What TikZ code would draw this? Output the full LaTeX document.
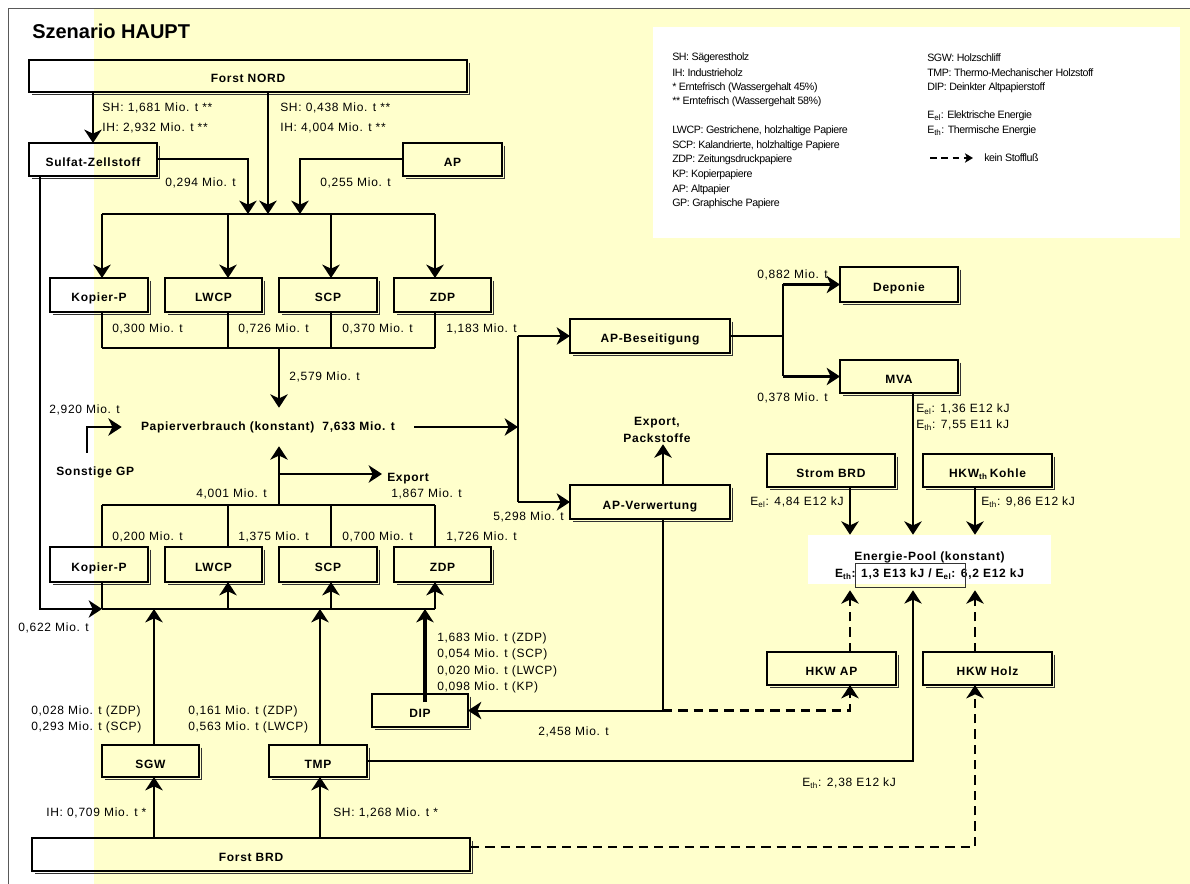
\documentclass[tikz,border=0pt]{standalone}
\usepackage{fontspec}
\setmainfont{Liberation Sans}
\newfontfamily\lsfont[LetterSpace=6]{Liberation Sans}
\newfontfamily\lgfont[LetterSpace=-4]{Liberation Sans}
\usetikzlibrary{arrows.meta}
\definecolor{bgy}{HTML}{FFFFCC}
\newcommand{\labf}{\lsfont\fontsize{9}{10}\selectfont}
\newcommand{\boxf}{\lsfont\bfseries\fontsize{9}{12.75}\selectfont}
\newcommand{\legf}{\lgfont\fontsize{8}{10}\selectfont}
\tikzset{
  ln/.style={line width=2.1pt},
  lnt/.style={line width=1.5pt},
  arr/.style={-{Stealth[length=10pt,width=13pt,inset=3pt]}},
  dsh/.style={line width=2pt, dash pattern=on 7pt off 4.5pt},
  wh/.style 2 args={minimum width=#1*0.75pt, minimum height=#2*0.75pt},
  box/.style={draw, line width=1.5pt, outer sep=0pt, inner sep=0pt, font=\boxf, text height=10.5pt, text depth=0pt},
  lab/.style={font=\labf, inner sep=0pt, anchor=west},
  leg/.style={font=\legf, inner sep=0pt, anchor=west},
  btx/.style={font=\boxf, inner sep=0pt},
  shd/.style={line width=0.8pt, black!80}
}
\begin{document}
\begin{tikzpicture}[x=0.75pt,y=-0.75pt]
\useasboundingbox (0,0) rectangle (1190,884);
\fill[white] (0,0) rectangle (1190,884);
\fill[bgy] (94,9) rectangle (1190,884);
\draw[black!65, line width=0.75pt] (8,884) -- (8,9) -- (1190,9);
\fill[white] (653,27) rectangle (1180,238);

% title
\node[font=\bfseries\fontsize{15}{18}\selectfont, anchor=base west, inner sep=0pt] (title) at (32,39) {Szenario HAUPT};

% legend
\node[leg] (lg1) at (672,58) {SH: Sägerestholz};
\node[leg] (lg2) at (672,73) {IH: Industrieholz};
\node[leg] (lg3) at (672,88) {* Erntefrisch (Wassergehalt 45\%)};
\node[leg] (lg4) at (672,102) {** Erntefrisch (Wassergehalt 58\%)};
\node[leg] (lg5) at (672,131) {LWCP: Gestrichene, holzhaltige Papiere};
\node[leg] (lg6) at (672,146) {SCP: Kalandrierte, holzhaltige Papiere};
\node[leg] (lg7) at (672,160) {ZDP: Zeitungsdruckpapiere};
\node[leg] (lg8) at (672,175) {KP: Kopierpapiere};
\node[leg] (lg9) at (672,190) {AP: Altpapier};
\node[leg] (lg10) at (672,204) {GP: Graphische Papiere};
\node[leg] (lr1) at (927,58) {SGW: Holzschliff};
\node[leg] (lr2) at (927,73) {TMP: Thermo-Mechanischer Holzstoff};
\node[leg] (lr3) at (927,88) {DIP: Deinkter Altpapierstoff};
\node[leg] (lr4) at (927,116) {E\textsubscript{el}: Elektrische Energie};
\node[leg] (lr5) at (927,131) {E\textsubscript{th}: Thermische Energie};
\node[leg] (lr6) at (984,158) {kein Stoffluß};
\coordinate (lga) at (930,158);
\coordinate (lgb) at (973,158);
\draw[line width=1.5pt, dash pattern=on 5pt off 3.5pt, -{Stealth[length=6pt,width=7pt,inset=1.5pt]}] (lga) -- (lgb);

% boxes
\node[box, wh={438}{32}] (fn) at (248,76) {Forst NORD};
\node[box, wh={128}{33}] (sz) at (93,159.5) {Sulfat-Zellstoff};
\node[box, wh={99}{33}] (ap) at (452.5,159.5) {AP};
\node[box, wh={98}{34}] (k1) at (99,295) {Kopier-P};
\node[box, wh={97}{34}] (l1) at (213.5,295) {LWCP};
\node[box, wh={98}{34}] (s1) at (328,295) {SCP};
\node[box, wh={97}{34}] (z1) at (442.5,295) {ZDP};
\node[box, wh={98}{35}] (k2) at (99,564.5) {Kopier-P};
\node[box, wh={97}{35}] (l2) at (213.5,564.5) {LWCP};
\node[box, wh={98}{35}] (s2) at (328,564.5) {SCP};
\node[box, wh={97}{35}] (z2) at (442.5,564.5) {ZDP};
\node[box, wh={160}{34}] (apb) at (650,336) {AP-Beseitigung};
\node[box, wh={160}{34}] (apv) at (650,502) {AP-Verwertung};
\node[box, wh={118}{35}] (dep) at (899,284.5) {Deponie};
\node[box, wh={118}{33}] (mva) at (899,376.5) {MVA};
\node[box, wh={128}{33}] (str) at (831,470.5) {Strom BRD};
\node[box, wh={129}{33}] (hkk) at (987.5,470.5) {HKW\textsubscript{th}\,Kohle};
\node[box, wh={129}{33}] (hka) at (831.5,668.5) {HKW AP};
\node[box, wh={129}{33}] (hkh) at (987.5,668.5) {HKW Holz};
\node[box, wh={96}{33}] (dip) at (420,710.5) {DIP};
\node[box, wh={97}{32}] (sgw) at (150.5,761) {SGW};
\node[box, wh={98}{32}] (tmp) at (318,761) {TMP};
\node[box, wh={438}{33}] (fb) at (251,854.5) {Forst BRD};
\node[fill=white, wh={243}{49}, inner sep=0pt] (ep) at (929.5,559.5) {};
\node[btx, align=center] (ept) at (929.5,566) {Energie-Pool (konstant)\\E\textsubscript{th}: 1,3 E13 kJ / E\textsubscript{el}: 6,2 E12 kJ};
\draw[line width=0.75pt, black!80] (855,563) rectangle (965,587);

\foreach \n in {fn,sz,ap,k1,l1,s1,z1,k2,l2,s2,z2,apb,apv,dep,mva,str,hkk,hka,hkh,dip,sgw,tmp,fb}
  \draw[shd] ([xshift=2pt,yshift=-2pt]\n.north east) -- ([xshift=2pt,yshift=-2pt]\n.south east) -- ([xshift=2pt,yshift=-2pt]\n.south west);

% free text nodes
\node[btx, wh={292}{38}] (pv) at (268,427) {Papierverbrauch (konstant)\ \ 7,633 Mio. t};
\node[btx, anchor=west] (sgp) at (56,472) {Sonstige GP};
\node[btx, anchor=west] (ex) at (387,479) {Export};
\node[btx, align=center, inner sep=1pt] (exp) at (657,430) {Export,\\Packstoffe};

% coordinates
\coordinate (tin1) at (248,214);
\coordinate (tin2) at (268,214);
\coordinate (tin3) at (300,214);
\coordinate (tb1) at (102,214);
\coordinate (tb2) at (228,214);
\coordinate (tb3) at (331,214);
\coordinate (tb4) at (435,214);
\coordinate (cb1) at (102,348);
\coordinate (cb2) at (228,348);
\coordinate (cb3) at (331,348);
\coordinate (cb4) at (435,348);
\coordinate (cbm) at (279,348);
\coordinate (ub1) at (102,505);
\coordinate (ub2) at (228,505);
\coordinate (ub3) at (331,505);
\coordinate (ub4) at (435,505);
\coordinate (ubm) at (279,505);
\coordinate (ex1) at (279,474);
\coordinate (exe) at (382,474);
\coordinate (lb0) at (40,609);
\coordinate (lb1) at (102,609);
\coordinate (lb2) at (228,609);
\coordinate (lb3) at (331,609);
\coordinate (lb4) at (435,609);
\coordinate (x154) at (154,609);
\coordinate (x320) at (320,609);
\coordinate (dipl) at (425,702);
\coordinate (dipt) at (425,609);
\coordinate (sgs) at (87,453);
\coordinate (jx) at (518,0);
\coordinate (spl) at (783,0);
\coordinate (x663) at (663,0);
\coordinate (dj) at (663,710.5);
\coordinate (x850) at (850,0);
\coordinate (x913) at (913,0);
\coordinate (x975) at (975,0);
\coordinate (fbd) at (470,847);
\coordinate (epb) at ([yshift=-4.5pt]ep.south);

% top connectors
\draw[ln,arr] (fn.south -| sz.north) -- (sz.north);
\draw[ln,arr] (fn.south -| tin2) -- (tin2);
\draw[lnt,arr] (sz.east) -- (sz.east -| tin1) -- (tin1);
\draw[lnt,arr] (ap.west) -- (ap.west -| tin3) -- (tin3);
\draw[ln] (tb1) -- (tb4);
\foreach \a/\b in {tb1/k1,tb2/l1,tb3/s1,tb4/z1} \draw[ln,arr] (\a) -- (\a |- \b.north);
\foreach \a/\b in {cb1/k1,cb2/l1,cb3/s1,cb4/z1} \draw[ln] (\a |- \b.south) -- (\a);
\draw[ln] (cb1) -- (cb4);
\draw[ln,arr] (cbm) -- (cbm |- pv.north);
\draw[ln,arr] (sgs) |- (pv.west);

% lower connectors
\draw[ln,arr] (ubm) -- (ubm |- pv.south);
\draw[ln,arr] (ex1) -- (exe);
\draw[ln] (ub1) -- (ub4);
\foreach \a/\b in {ub1/k2,ub2/l2,ub3/s2,ub4/z2} \draw[ln] (\a |- \b.north) -- (\a);
\draw[ln] (lb1) -- (lb4);
\draw[ln] (lb1 |- k2.south) -- (lb1);
\foreach \a/\b in {lb2/l2,lb3/s2,lb4/z2} \draw[ln,arr] (\a) -- (\a |- \b.south);
\draw[lnt,arr] (sz.south -| lb0) |- (lb1);
\draw[ln,arr] (sgw.north -| x154) -- (x154);
\draw[ln,arr] (tmp.north -| x320) -- (x320);
\draw[line width=3pt,arr] (dipl) -- (dipt);
\draw[ln,arr] (fb.north -| x154) -- (sgw.south -| x154);
\draw[ln,arr] (fb.north -| x320) -- (tmp.south -| x320);

% right connectors
\draw[ln,arr] (pv.east) -- (pv.east -| jx);
\draw[ln] (apb.west -| jx) -- (apv.west -| jx);
\draw[ln,arr] (apb.west -| jx) -- (apb.west);
\draw[ln,arr] (apv.west -| jx) -- (apv.west);
\draw[ln,arr] (apv.north -| x663) -- (exp.south -| x663);
\draw[ln] (apb.east) -- (apb.east -| spl);
\draw[ln] (dep.west -| spl) -- (mva.west -| spl);
\draw[ln,arr] (dep.west -| spl) -- (dep.west);
\draw[ln,arr] (mva.west -| spl) -- (mva.west);
\draw[ln,arr] (mva.south -| x913) -- (ep.north -| x913);
\draw[ln,arr] (str.south -| x850) -- (ep.north -| x850);
\draw[ln,arr] (hkk.south -| x975) -- (ep.north -| x975);
\draw[dsh,arr] (hka.north -| x850) -- (epb -| x850);
\draw[dsh,arr] (hkh.north -| x975) -- (epb -| x975);
\draw[lnt,arr] (tmp.east) -- (tmp.east -| x913) -- (epb -| x913);
\draw[dsh,arr] (fbd) -| (hkh.south -| x975);
\draw[lnt] (apv.south -| dj) -- (dj);
\draw[lnt,arr] (dj) -- (dip.east);
\draw[dsh,arr] (dj) -| (hka.south -| x850);

% labels
\node[lab] (t1) at (102,108) {SH: 1,681 Mio. t **};
\node[lab] (t2) at (102,128) {IH: 2,932 Mio. t **};
\node[lab] (t3) at (280,108) {SH: 0,438 Mio. t **};
\node[lab] (t4) at (280,128) {IH: 4,004 Mio. t **};
\node[lab] (t5) at (165,183) {0,294 Mio. t};
\node[lab] (t6) at (320,183) {0,255 Mio. t};
\node[lab] (t7) at (112,329) {0,300 Mio. t};
\node[lab] (t8) at (238,329) {0,726 Mio. t};
\node[lab] (t9) at (342,329) {0,370 Mio. t};
\node[lab] (t10) at (446,329) {1,183 Mio. t};
\node[lab] (t11) at (289,377) {2,579 Mio. t};
\node[lab] (t12) at (49,410) {2,920 Mio. t};
\node[lab] (t13) at (196,494) {4,001 Mio. t};
\node[lab] (t14) at (391,494) {1,867 Mio. t};
\node[lab] (t15) at (112,537) {0,200 Mio. t};
\node[lab] (t16) at (238,537) {1,375 Mio. t};
\node[lab] (t17) at (342,537) {0,700 Mio. t};
\node[lab] (t18) at (446,537) {1,726 Mio. t};
\node[lab] (t19) at (493,517) {5,298 Mio. t};
\node[lab] (t20) at (18,628) {0,622 Mio. t};
\node[lab] (t21) at (31,711) {0,028 Mio. t (ZDP)};
\node[lab] (t22) at (31,727) {0,293 Mio. t (SCP)};
\node[lab] (t23) at (188,711) {0,161 Mio. t (ZDP)};
\node[lab] (t24) at (188,727) {0,563 Mio. t (LWCP)};
\node[lab] (t25) at (437,638) {1,683 Mio. t (ZDP)};
\node[lab] (t26) at (437,654) {0,054 Mio. t (SCP)};
\node[lab] (t27) at (437,671) {0,020 Mio. t (LWCP)};
\node[lab] (t28) at (437,687) {0,098 Mio. t (KP)};
\node[lab] (t29) at (46,813) {IH: 0,709 Mio. t *};
\node[lab] (t30) at (333,813) {SH: 1,268 Mio. t *};
\node[lab] (t31) at (538,732) {2,458 Mio. t};
\node[lab] (t32) at (757,275) {0,882 Mio. t};
\node[lab] (t33) at (757,398) {0,378 Mio. t};
\node[lab] (t34) at (916,409) {E\textsubscript{el}: 1,36 E12 kJ};
\node[lab] (t35) at (916,425) {E\textsubscript{th}: 7,55 E11 kJ};
\node[lab] (t36) at (750,502) {E\textsubscript{el}: 4,84 E12 kJ};
\node[lab] (t37) at (981,502) {E\textsubscript{th}: 9,86 E12 kJ};
\node[lab] (t38) at (802,783) {E\textsubscript{th}: 2,38 E12 kJ};
\end{tikzpicture}
\end{document}
